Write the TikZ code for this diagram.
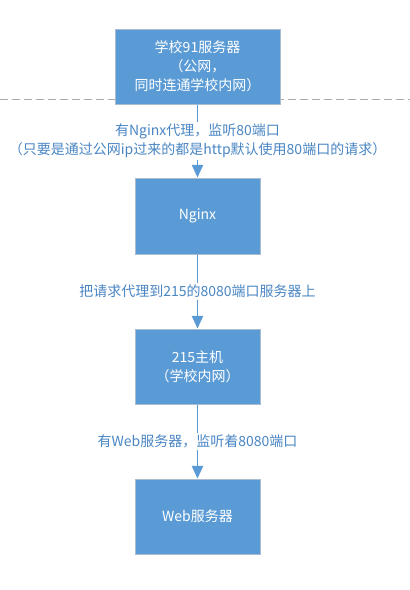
\documentclass[tikz,border=0pt]{standalone}
\usepackage{fontspec}
\setmainfont{Noto Sans CJK SC}
\usetikzlibrary{arrows.meta,shadows}
\definecolor{boxblue}{HTML}{5B9BD5}
\definecolor{boxedge}{HTML}{A9BCD0}
\definecolor{labblue}{HTML}{4A86C4}
\definecolor{dashgrey}{HTML}{AAAAAA}
\begin{document}
\begin{tikzpicture}[x=0.75pt,y=-0.75pt,
  stepbox/.style={draw=boxedge,line width=0.75pt,fill=boxblue,text=white,
    align=center,font=\fontsize{10.5}{14.25}\selectfont,inner sep=0pt,
    drop shadow={shadow xshift=1pt,shadow yshift=-1pt,opacity=0.15}},
  conn/.style={draw=boxblue,line width=1.2pt,-{Triangle[length=9.5pt,width=8.5pt]}},
  lab/.style={fill=white,text=labblue,align=center,font=\fontsize{10.5}{14.25}\selectfont,inner sep=1.5pt}]
\useasboundingbox (0,0) rectangle (410,590);
\draw[dashgrey,line width=0.75pt,dash pattern=on 6pt off 3pt] (0,99) coordinate (dl) -- (410,99) coordinate (dr);
\node[stepbox,minimum width=165*0.75pt,minimum height=75*0.75pt] (s91) at (197.5,66.5)
  {学校91服务器\\（公网，\\同时连通学校内网）};
\node[stepbox,minimum width=125*0.75pt,minimum height=76*0.75pt] (ngx) at (197.5,216) {Nginx};
\node[stepbox,minimum width=125*0.75pt,minimum height=75*0.75pt] (h215) at (197.5,366.5) {215主机\\（学校内网）};
\node[stepbox,minimum width=125*0.75pt,minimum height=75*0.75pt] (web) at (197.5,516.5) {Web服务器};
\draw[conn] (s91) -- node[lab,pos=0.5] {有Nginx代理，监听80端口\\（只要是通过公网ip过来的都是http默认使用80端口的请求）} (ngx);
\draw[conn] (ngx) -- node[lab] {把请求代理到215的8080端口服务器上} (h215);
\draw[conn] (h215) -- node[lab] {有Web服务器，监听着8080端口} (web);
\end{tikzpicture}
\end{document}
